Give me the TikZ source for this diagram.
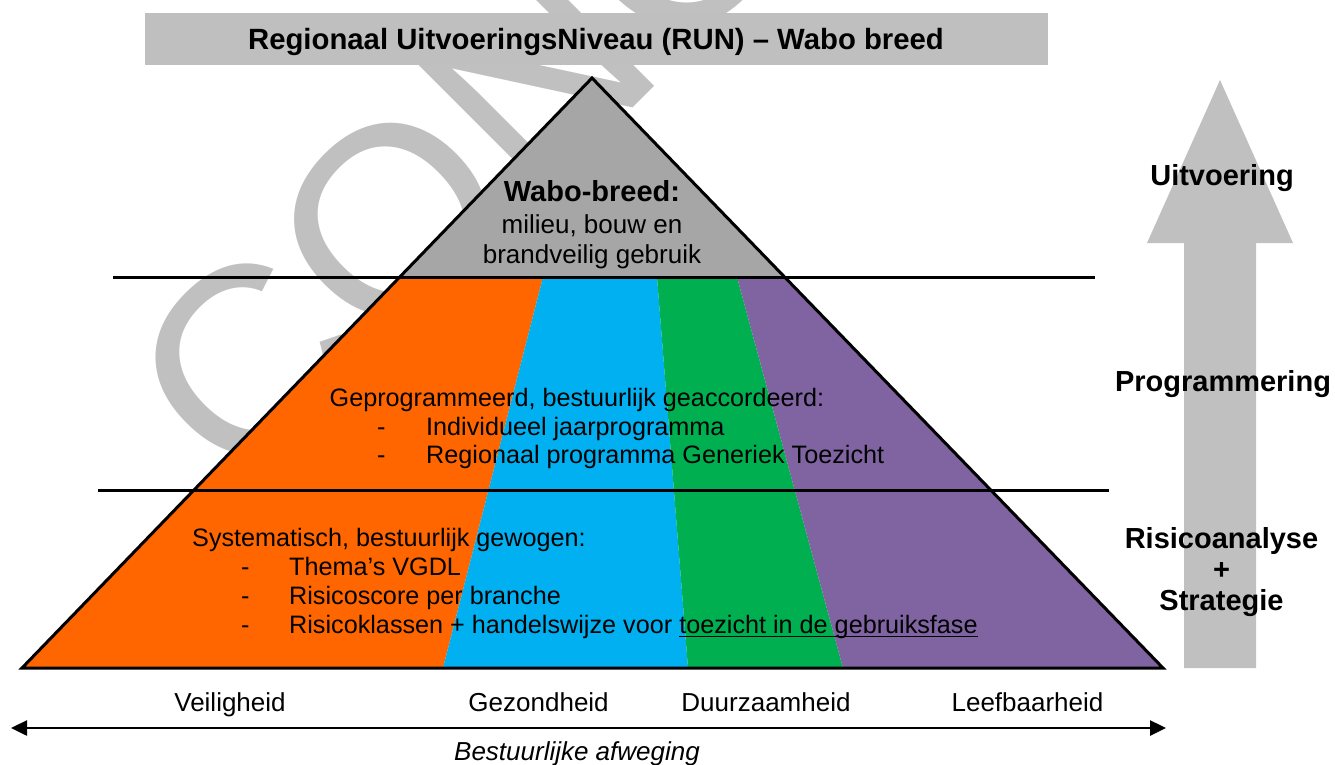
\documentclass[tikz,border=0pt]{standalone}
\usepackage{fontspec}
\setmainfont{Liberation Sans}
\usetikzlibrary{arrows.meta}
\definecolor{wm}{HTML}{C0C0C0}
\definecolor{banner}{HTML}{BFBFBF}
\definecolor{topgrey}{HTML}{A6A6A6}
\definecolor{vorange}{HTML}{FF6600}
\definecolor{vblue}{HTML}{00B0F0}
\definecolor{vgreen}{HTML}{00B050}
\definecolor{vpurple}{HTML}{8064A2}
\newsavebox\ulbox
\newcommand\myul[1]{\sbox\ulbox{#1}\rlap{\rule[-3.5pt]{\wd\ulbox}{1.5pt}}\usebox\ulbox}
\begin{document}
\begin{tikzpicture}[x=1pt,y=-1pt,
  txt/.style={inner sep=0pt, anchor=base west, font=\fontsize{25.2}{30}\selectfont},
  lbl/.style={inner sep=0pt, anchor=base, font=\fontsize{26}{31}\selectfont},
  boldlbl/.style={inner sep=0pt, anchor=base, font=\fontsize{29}{34}\selectfont\bfseries},
  edgeline/.style={line width=3pt}
]
\useasboundingbox (0,0) rectangle (1335,764);
\begin{scope}
\clip (0,0) rectangle (1335,764);
% watermark
\node[rotate=45, xscale=1.026, anchor=base west, inner sep=0pt, text=wm, font=\fontsize{265}{265}\selectfont] (wmark) at (242.5,498.3) {CONCEPT};
% banner
\node[fill=banner, inner sep=0pt, minimum width=903pt, minimum height=52pt] (banner) at (596.5,39) {};
\node[boldlbl, font=\fontsize{29.3}{34}\selectfont\bfseries] (title) at (596,49.3) {Regionaal UitvoeringsNiveau (RUN) – Wabo breed};
% pyramid
\coordinate (apex) at (592,78);
\coordinate (bl) at (22,668);
\coordinate (br) at (1163,668);
\coordinate (ul) at (399.7,277);
\coordinate (ur) at (784.6,277);
\fill[topgrey] (apex) -- (ul) -- (ur) -- cycle;
\begin{scope}
\clip (ul) -- (ur) -- (br) -- (bl) -- cycle;
\fill[vorange] (0,277) -- (543,277) -- (443,668) -- (0,668) -- cycle;
\fill[vblue] (543,277) -- (657,277) -- (688,668) -- (443,668) -- cycle;
\fill[vgreen] (657,277) -- (737,277) -- (843,668) -- (688,668) -- cycle;
\fill[vpurple] (737,277) -- (1200,277) -- (1200,668) -- (843,668) -- cycle;
\end{scope}
\draw[edgeline, line join=miter] (apex) -- (br) -- (bl) -- cycle;
\coordinate (l1a) at (113,277);
\coordinate (l1b) at (1095,277);
\coordinate (l2a) at (98,490);
\coordinate (l2b) at (1109,490);
\draw[edgeline] (l1a) -- (l1b);
\draw[edgeline] (l2a) -- (l2b);
% right block arrow
\fill[wm] (1184,668) -- (1184,243) -- (1147,243) -- (1220,80) -- (1293,243) -- (1256,243) -- (1256,668) -- cycle;
% bottom double arrow
\coordinate (axL) at (11,728);
\coordinate (axR) at (1166,728);
\draw[line width=2.5pt, {Triangle[length=16pt,width=15pt]}-{Triangle[length=16pt,width=15pt]}] (axL) -- (axR);
% texts top
\node[boldlbl] (wabo) at (592,201.7) {Wabo-breed:};
\node[lbl] (wabo2) at (592,233) {milieu, bouw en};
\node[lbl] (wabo3) at (592,263) {brandveilig gebruik};
% programmering texts
\node[txt] (prog0) at (329.5,406.7) {Geprogrammeerd, bestuurlijk geaccordeerd:};
\node[txt] (progd1) at (377,435) {-};
\node[txt] (prog1) at (426,435) {Individueel jaarprogramma};
\node[txt] (progd2) at (377,463.5) {-};
\node[txt] (prog2) at (426,463.5) {Regionaal programma Generiek Toezicht};
% risk texts
\node[txt] (sys0) at (192,546.7) {Systematisch, bestuurlijk gewogen:};
\node[txt] (sysd1) at (241,575.5) {-};
\node[txt] (sys1) at (289,575.5) {Thema’s VGDL};
\node[txt] (sysd2) at (241,604.5) {-};
\node[txt] (sys2) at (289,604.5) {Risicoscore per branche};
\node[txt] (sysd3) at (241,633.5) {-};
\node[txt] (sys3) at (289,633.5) {Risicoklassen + handelswijze voor \myul{toezicht in de gebruiksfase}};
% right labels
\node[boldlbl] (uitv) at (1222,185) {Uitvoering};
\node[boldlbl] (progr) at (1223,391) {Programmering};
\node[boldlbl] (risk) at (1221.5,548) {Risicoanalyse};
\node[boldlbl] (plus) at (1221.5,579) {+};
\node[boldlbl] (strat) at (1221.5,610) {Strategie};
% bottom labels
\node[lbl] (veil) at (230,711.7) {Veiligheid};
\node[lbl] (gez) at (538.6,711.7) {Gezondheid};
\node[lbl] (duur) at (766,711.7) {Duurzaamheid};
\node[lbl] (leef) at (1027.5,711.7) {Leefbaarheid};
\node[lbl, font=\fontsize{26}{31}\selectfont\itshape] (afw) at (577,760) {Bestuurlijke afweging};
\end{scope}
\end{tikzpicture}
\end{document}
